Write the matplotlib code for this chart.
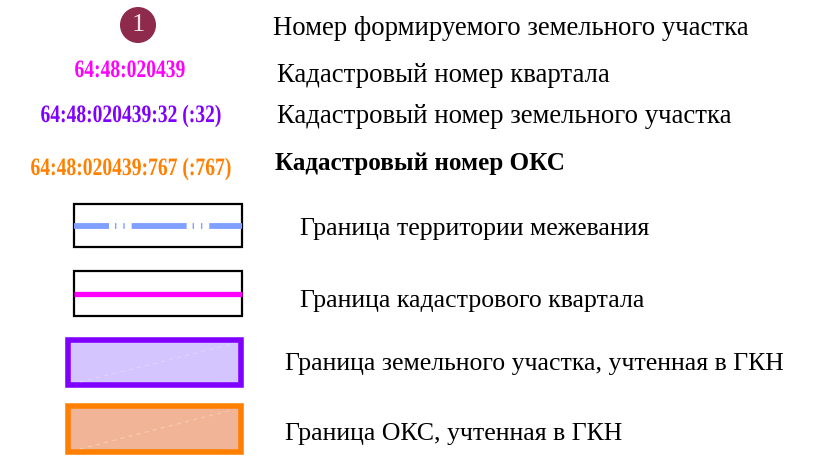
import matplotlib
matplotlib.use('Agg')
import matplotlib.pyplot as plt
import matplotlib.patheffects as pe
from matplotlib.patches import Rectangle, Circle
from matplotlib.transforms import Affine2D

plt.rcParams['font.family'] = ['Liberation Serif', 'DejaVu Serif']
plt.rcParams['lines.scale_dashes'] = False

# legend content
parcel_no = '1'
codes = ['64:48:020439', '64:48:020439:32 (:32)', '64:48:020439:767 (:767)']
code_colors = ['#ff00ff', '#8000ff', '#ff8000']
top_labels = ['Номер формируемого земельного участка',
              'Кадастровый номер квартала',
              'Кадастровый номер земельного участка',
              'Кадастровый номер ОКС']
line_labels = ['Граница территории межевания',
               'Граница кадастрового квартала']
line_colors = ['#80a0ff', '#ff00ff']
area_labels = ['Граница земельного участка, учтенная в ГКН',
               'Граница ОКС, учтенная в ГКН']
area_edges = ['#8000ff', '#ff8000']
area_fills = ['#d4c4ff', '#f2b496']


class Squeeze(pe.AbstractPathEffect):
    # narrow the glyphs horizontally around cx (display px)
    def __init__(self, sx, cx):
        super().__init__()
        self.sx = sx
        self.cx = cx

    def draw_path(self, renderer, gc, tpath, affine, rgbFace=None):
        t = affine + Affine2D().translate(-self.cx, 0).scale(self.sx, 1).translate(self.cx, 0)
        renderer.draw_path(gc, tpath, t, rgbFace)


fig = plt.figure(figsize=(8.24, 4.58), dpi=100)
ax = fig.add_axes([0, 0, 1, 1])
ax.set_xlim(0, 824)
ax.set_ylim(458, 0)
ax.axis('off')
renderer = fig.canvas.get_renderer()

# circle with parcel number
ax.add_patch(Circle((138, 25), 18, facecolor='#8e2a4c', edgecolor='none'))
ax.text(138, 25, parcel_no, color='#f4e4ea', fontsize=19, ha='center', va='center')

# coloured cadastral numbers (condensed bold, like the original)
code_base = [77, 122, 175]
code_cx = [130, 131, 131]
code_w = [111, 181, 201]
for txt, c, yb, cx, w in zip(codes, code_colors, code_base, code_cx, code_w):
    t = ax.text(cx, yb, txt, color=c, fontsize=18, fontweight='bold',
                ha='center', va='baseline')
    nat = t.get_window_extent(renderer).width
    t.set_path_effects([Squeeze(w / nat, cx)])

# text descriptions
top_x = [273, 277, 277, 275]
top_base = [35, 82, 123, 170]
for i, (lab, x, yb) in enumerate(zip(top_labels, top_x, top_base)):
    if i == 3:
        ax.text(x, yb, lab, fontsize=18.05, ha='left', va='baseline',
                fontweight='bold', color='black')
    else:
        ax.text(x, yb, lab, fontsize=19.3, ha='left', va='baseline', color='black')

# line samples
boxes_y = [(204, 247), (271, 316)]
for (y0, y1), c, lab, yb in zip(boxes_y, line_colors, line_labels, [235, 307]):
    ax.add_patch(Rectangle((74, y0), 168, y1 - y0, facecolor='white',
                           edgecolor='black', lw=1.6))
    ym = (y0 + y1) / 2
    if c == '#80a0ff':
        ax.plot([74, 242], [ym, ym], color=c, lw=4.2, solid_capstyle='butt',
                dash_capstyle='butt',
                linestyle=(14.4, (39.6, 4.3, 1.0, 5.0, 1.0, 5.0)))
    else:
        ax.plot([74, 242], [ym + 0.5, ym + 0.5], color=c, lw=3.8,
                solid_capstyle='butt')
    ax.text(300, yb, lab, fontsize=18.55, ha='left', va='baseline')

# filled areas
areas_y = [(337, 388), (403, 455)]
for (y0, y1), ec, fc, lab, yb in zip(areas_y, area_edges, area_fills, area_labels, [370, 440]):
    ax.add_patch(Rectangle((68, y0 + 3), 173, y1 - y0 - 6, facecolor=fc,
                           edgecolor=ec, lw=4.0, joinstyle='miter'))
    ax.plot([80, 232], [y1 - 6, y0 + 7], color='white', lw=0.8, alpha=0.3,
            linestyle=(0, (3, 3)))
    ax.text(285, yb, lab, fontsize=18.55, ha='left', va='baseline')

fig.savefig('out.png', dpi=100, facecolor='white')
